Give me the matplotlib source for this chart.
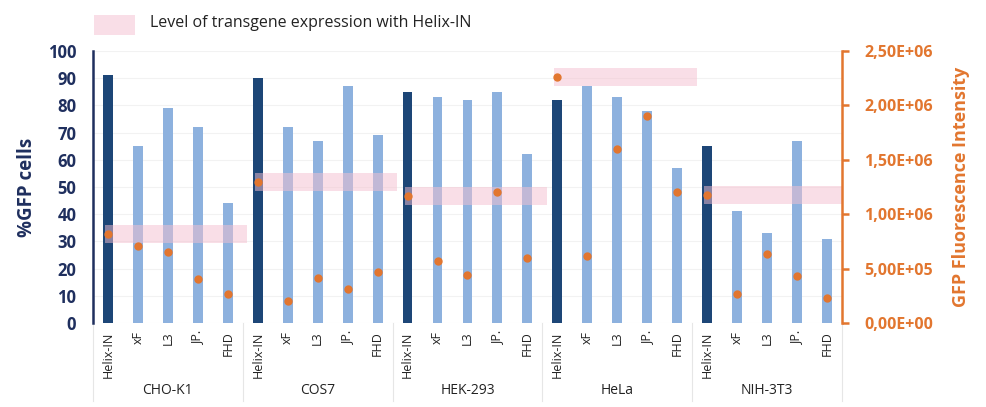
import numpy as np
import matplotlib
matplotlib.use("Agg")
import matplotlib.pyplot as plt
from matplotlib.patches import Rectangle
from matplotlib.ticker import FuncFormatter, MultipleLocator
import matplotlib.transforms as mtransforms

# data
cell_lines = ["CHO-K1", "COS7", "HEK-293", "HeLa", "NIH-3T3"]
reagents = ["Helix-IN", "xF", "L3", "JP.", "FHD"]

gfp_cells = {
    "CHO-K1": [91, 65, 79, 72, 44],
    "COS7": [90, 72, 67, 87, 69],
    "HEK-293": [85, 83, 82, 85, 62],
    "HeLa": [82, 87, 83, 78, 57],
    "NIH-3T3": [65, 41, 33, 67, 31],
}
gfp_intensity = {
    "CHO-K1": [8.2e5, 7.1e5, 6.5e5, 4.0e5, 2.7e5],
    "COS7": [1.30e6, 2.0e5, 4.1e5, 3.1e5, 4.7e5],
    "HEK-293": [1.17e6, 5.7e5, 4.4e5, 1.20e6, 6.0e5],
    "HeLa": [2.26e6, 6.2e5, 1.60e6, 1.90e6, 1.20e6],
    "NIH-3T3": [1.18e6, 2.7e5, 6.3e5, 4.3e5, 2.3e5],
}

DARK = "#1d4677"
LIGHT = "#8db1de"
ORANGE = "#e2762f"
NAVY = "#1f2f5e"
PINK = "#f5bfd0"

plt.rcParams["font.family"] = ["Open Sans", "DejaVu Sans"]

fig = plt.figure(figsize=(9.86, 4.07), dpi=100)
ax = fig.add_axes([0.0943, 0.2064, 0.7596, 0.6683])
ax2 = ax.twinx()

n = len(reagents)
x = np.arange(len(cell_lines) * n)
heights = [v for c in cell_lines for v in gfp_cells[c]]
dots = [v for c in cell_lines for v in gfp_intensity[c]]
colors = [DARK if r == "Helix-IN" else LIGHT for c in cell_lines for r in reagents]

ax.bar(x, heights, width=0.33, color=colors, zorder=2)
ax.set_ylim(0, 100)
ax.set_xlim(-0.5, len(x) - 0.5)
ax.yaxis.set_major_locator(MultipleLocator(10))
ax.grid(axis="y", color="#f2f2f2", lw=0.8, zorder=0)
ax.set_axisbelow(True)

# pink bands at the Helix-IN intensity level of each cell line
half = 8.3e4
for i, c in enumerate(cell_lines):
    lvl = gfp_intensity[c][0]
    x0 = i * n - 0.1
    x1 = min(i * n + 4.65, len(x) - 0.5)
    ax2.add_patch(Rectangle((x0, lvl - half), x1 - x0, 2 * half,
                            facecolor=PINK, alpha=0.5, lw=0, zorder=1))

ax2.plot(x, dots, "o", color=ORANGE, markersize=5, zorder=3, ls="none")
ax2.set_ylim(0, 2.5e6)
ax2.yaxis.set_major_locator(MultipleLocator(5e5))
ax2.yaxis.set_major_formatter(FuncFormatter(lambda v, p: f"{v:.2E}".replace(".", ",")))

# spines
for s in ["top", "bottom", "right"]:
    ax.spines[s].set_visible(False)
for s in ["top", "bottom", "left"]:
    ax2.spines[s].set_visible(False)
ax.spines["left"].set_color(NAVY)
ax.spines["left"].set_linewidth(1.8)
ax2.spines["right"].set_color(ORANGE)
ax2.spines["right"].set_linewidth(1.8)

ax.tick_params(axis="y", length=0, pad=12, labelsize=12, labelcolor=NAVY)
for lab in ax.get_yticklabels():
    lab.set_fontweight("bold")
ax2.tick_params(axis="y", length=5, width=1.8, color=ORANGE, pad=11,
                labelsize=11.5, labelcolor=ORANGE)
for lab in ax2.get_yticklabels():
    lab.set_fontweight("bold")

ax.set_xticks(x)
ax.set_xticklabels([r for c in cell_lines for r in reagents], rotation=90,
                   fontsize=9, color="#222222")
ax.tick_params(axis="x", length=0, pad=6)

ax.set_ylabel("%GFP cells", fontsize=13.5, fontweight="bold", color=NAVY, labelpad=8)
ax2.set_ylabel("GFP Fluorescence Intensity", fontsize=13, fontweight="bold",
               color=ORANGE, labelpad=14)

# group separators and group labels below the axis
trans = mtransforms.blended_transform_factory(ax.transData, ax.transAxes)
for k in range(len(cell_lines) + 1):
    xb = k * n - 0.5
    ax.plot([xb, xb], [0, -0.285], transform=trans, color="#e6e6e6", lw=0.8,
            clip_on=False)
for i, c in enumerate(cell_lines):
    ax.text(i * n + 2, -0.25, c, transform=trans, ha="center", va="center",
            fontsize=10, color="#222222")

# legend
fig.patches.append(Rectangle((0.0953, 0.914), 0.0416, 0.049, transform=fig.transFigure,
                             facecolor=PINK, alpha=0.5, lw=0))
fig.text(0.152, 0.943, "Level of transgene expression with Helix-IN", fontsize=11.5,
         va="center", ha="left", color="#222222")

fig.savefig("out.png", dpi=100)
